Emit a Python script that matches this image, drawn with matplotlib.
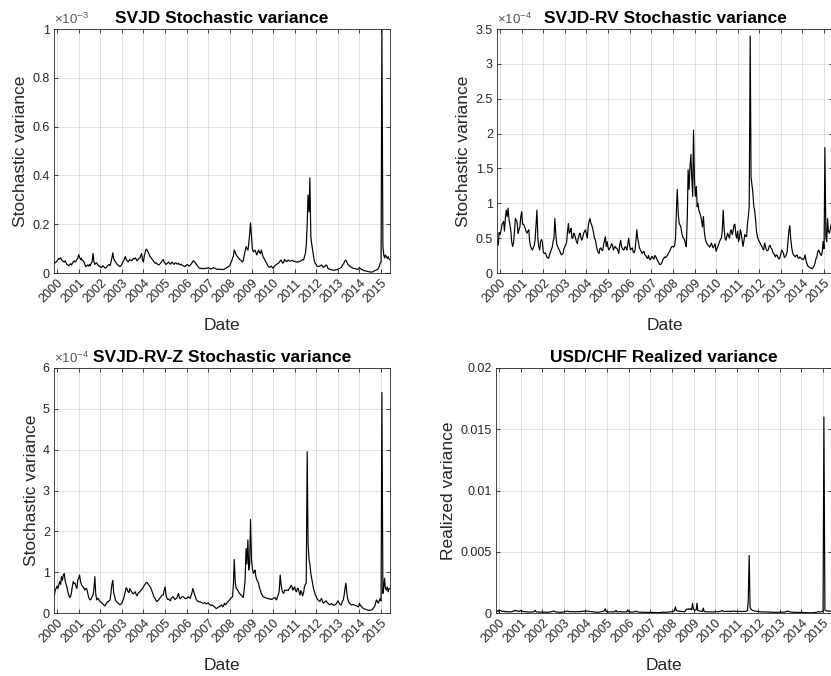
import numpy as np
import pandas as pd
import matplotlib
matplotlib.use('Agg')
import matplotlib.pyplot as plt
import matplotlib.dates as mdates
from matplotlib.ticker import FuncFormatter

plt.rcParams['font.family'] = 'Liberation Sans'
plt.rcParams['mathtext.fontset'] = 'custom'
plt.rcParams['mathtext.rm'] = 'Liberation Sans'
plt.rcParams['mathtext.it'] = 'Liberation Sans:italic'

# semi-monthly samples (1st and 15th), 15 Nov 1999 .. 1 Jun 2015
# SVJD stochastic variance, units of 1e-3
svjd = [
    0.040, 0.042, 0.045,
    # 2000
    0.050, 0.055, 0.060, 0.057, 0.062, 0.055, 0.050, 0.048, 0.045, 0.050, 0.042, 0.035,
    0.033, 0.030, 0.034, 0.038, 0.033, 0.040, 0.046, 0.050, 0.045, 0.048, 0.055, 0.060,
    # 2001
    0.075, 0.065, 0.055, 0.060, 0.052, 0.050, 0.045, 0.035, 0.026, 0.030, 0.033, 0.028,
    0.035, 0.030, 0.040, 0.045, 0.080, 0.045, 0.035, 0.040, 0.042, 0.035, 0.030, 0.028,
    # 2002
    0.026, 0.022, 0.025, 0.030, 0.026, 0.022, 0.020, 0.024, 0.028, 0.032, 0.035, 0.030,
    0.045, 0.060, 0.083, 0.060, 0.050, 0.045, 0.040, 0.035, 0.032, 0.028, 0.026, 0.030,
    # 2003
    0.035, 0.045, 0.050, 0.060, 0.068, 0.055, 0.050, 0.045, 0.050, 0.055, 0.052, 0.050,
    0.055, 0.060, 0.058, 0.062, 0.055, 0.050, 0.055, 0.060, 0.062, 0.070, 0.080, 0.055,
    # 2004
    0.045, 0.070, 0.085, 0.098, 0.095, 0.088, 0.080, 0.070, 0.065, 0.060, 0.055, 0.050,
    0.045, 0.040, 0.042, 0.038, 0.035, 0.033, 0.036, 0.040, 0.045, 0.050, 0.056, 0.045,
    # 2005
    0.040, 0.035, 0.038, 0.042, 0.045, 0.040, 0.036, 0.040, 0.045, 0.040, 0.035, 0.040,
    0.042, 0.038, 0.036, 0.040, 0.035, 0.033, 0.036, 0.032, 0.030, 0.028, 0.026, 0.030,
    # 2006
    0.032, 0.035, 0.030, 0.028, 0.032, 0.036, 0.042, 0.048, 0.050, 0.045, 0.040, 0.035,
    0.030, 0.025, 0.020, 0.019, 0.018, 0.020, 0.018, 0.017, 0.019, 0.020, 0.018, 0.020,
    # 2007
    0.022, 0.020, 0.018, 0.016, 0.018, 0.020, 0.022, 0.020, 0.018, 0.016, 0.015, 0.017,
    0.015, 0.014, 0.016, 0.015, 0.013, 0.015, 0.016, 0.018, 0.020, 0.022, 0.025, 0.028,
    # 2008
    0.030, 0.040, 0.050, 0.060, 0.070, 0.094, 0.085, 0.075, 0.070, 0.065, 0.060, 0.055,
    0.053, 0.050, 0.045, 0.050, 0.074, 0.090, 0.108, 0.100, 0.094, 0.120, 0.160, 0.206,
    # 2009
    0.150, 0.100, 0.087, 0.090, 0.094, 0.085, 0.074, 0.085, 0.094, 0.085, 0.080, 0.094,
    0.080, 0.067, 0.060, 0.053, 0.045, 0.040, 0.030, 0.026, 0.023, 0.025, 0.029, 0.024,
    # 2010
    0.019, 0.024, 0.030, 0.033, 0.035, 0.038, 0.040, 0.045, 0.050, 0.053, 0.045, 0.040,
    0.045, 0.056, 0.050, 0.047, 0.050, 0.053, 0.050, 0.048, 0.050, 0.052, 0.050, 0.048,
    # 2011
    0.048, 0.046, 0.045, 0.047, 0.045, 0.046, 0.048, 0.050, 0.053, 0.055, 0.053, 0.067,
    0.080, 0.108, 0.200, 0.320, 0.250, 0.390, 0.150, 0.120, 0.094, 0.074, 0.046, 0.040,
    # 2012
    0.033, 0.028, 0.026, 0.027, 0.029, 0.031, 0.033, 0.028, 0.023, 0.026, 0.029, 0.033,
    0.030, 0.019, 0.017, 0.015, 0.015, 0.013, 0.012, 0.012, 0.011, 0.012, 0.013, 0.014,
    # 2013
    0.015, 0.017, 0.019, 0.021, 0.023, 0.030, 0.036, 0.042, 0.050, 0.053, 0.045, 0.037,
    0.033, 0.029, 0.026, 0.023, 0.021, 0.020, 0.019, 0.018, 0.017, 0.016, 0.015, 0.016,
    # 2014
    0.023, 0.018, 0.015, 0.013, 0.012, 0.010, 0.009, 0.008, 0.007, 0.006, 0.005, 0.005,
    0.004, 0.004, 0.004, 0.005, 0.007, 0.010, 0.011, 0.013, 0.015, 0.018, 0.026, 0.040,
    # 2015
    0.045, 1.000, 0.110, 0.075, 0.062, 0.074, 0.066, 0.060, 0.067, 0.058, 0.053,
]

# SVJD-RV stochastic variance, units of 1e-4
svjd_rv = [
    0.45, 0.40, 0.58,
    # 2000
    0.55, 0.60, 0.69, 0.72, 0.74, 0.60, 0.80, 0.90, 0.81, 0.93, 0.76, 0.70,
    0.60, 0.45, 0.38, 0.43, 0.60, 0.78, 0.76, 0.72, 0.57, 0.62, 0.66, 0.80,
    # 2001
    0.88, 0.70, 0.70, 0.67, 0.64, 0.60, 0.57, 0.60, 0.62, 0.45, 0.38, 0.35,
    0.33, 0.36, 0.40, 0.47, 0.70, 0.90, 0.50, 0.38, 0.33, 0.45, 0.48, 0.45,
    # 2002
    0.30, 0.28, 0.29, 0.27, 0.23, 0.22, 0.21, 0.26, 0.30, 0.33, 0.37, 0.45,
    0.50, 0.78, 0.55, 0.42, 0.38, 0.35, 0.33, 0.30, 0.26, 0.27, 0.28, 0.35,
    # 2003
    0.38, 0.40, 0.45, 0.60, 0.71, 0.57, 0.60, 0.64, 0.50, 0.50, 0.57, 0.55,
    0.50, 0.45, 0.42, 0.50, 0.55, 0.57, 0.50, 0.47, 0.52, 0.57, 0.60, 0.62,
    # 2004
    0.55, 0.50, 0.68, 0.74, 0.78, 0.72, 0.68, 0.64, 0.57, 0.50, 0.47, 0.40,
    0.33, 0.30, 0.28, 0.35, 0.36, 0.33, 0.32, 0.40, 0.47, 0.52, 0.38, 0.45,
    # 2005
    0.36, 0.33, 0.36, 0.38, 0.42, 0.40, 0.33, 0.36, 0.38, 0.36, 0.35, 0.32,
    0.28, 0.40, 0.47, 0.38, 0.35, 0.33, 0.34, 0.38, 0.36, 0.33, 0.42, 0.50,
    # 2006
    0.38, 0.33, 0.35, 0.36, 0.30, 0.29, 0.33, 0.45, 0.62, 0.50, 0.43, 0.36,
    0.33, 0.31, 0.28, 0.30, 0.31, 0.26, 0.25, 0.22, 0.21, 0.25, 0.20, 0.19,
    # 2007
    0.22, 0.24, 0.21, 0.20, 0.25, 0.24, 0.21, 0.18, 0.16, 0.13, 0.12, 0.13,
    0.15, 0.19, 0.21, 0.23, 0.22, 0.24, 0.25, 0.28, 0.30, 0.33, 0.36, 0.38,
    # 2008
    0.38, 0.37, 0.40, 0.50, 0.90, 1.20, 0.85, 0.72, 0.69, 0.66, 0.57, 0.52,
    0.50, 0.48, 0.42, 0.38, 0.80, 1.48, 1.20, 1.50, 1.70, 1.38, 1.10, 2.05,
    # 2009
    1.33, 1.10, 1.24, 0.95, 1.00, 0.90, 0.86, 0.82, 0.75, 0.66, 0.81, 0.60,
    0.50, 0.45, 0.42, 0.40, 0.39, 0.37, 0.40, 0.43, 0.38, 0.36, 0.39, 0.42,
    # 2010
    0.31, 0.35, 0.38, 0.42, 0.45, 0.48, 0.50, 0.60, 0.90, 0.66, 0.50, 0.47,
    0.52, 0.57, 0.53, 0.50, 0.60, 0.62, 0.55, 0.60, 0.69, 0.70, 0.55, 0.50,
    # 2011
    0.60, 0.45, 0.50, 0.62, 0.57, 0.48, 0.38, 0.45, 0.55, 0.53, 0.52, 0.70,
    0.82, 0.95, 3.40, 1.38, 1.25, 1.15, 0.95, 0.90, 0.75, 0.60, 0.52, 0.48,
    # 2012
    0.45, 0.43, 0.40, 0.38, 0.35, 0.33, 0.43, 0.38, 0.33, 0.32, 0.33, 0.38,
    0.40, 0.36, 0.35, 0.30, 0.28, 0.26, 0.23, 0.26, 0.25, 0.22, 0.20, 0.22,
    # 2013
    0.28, 0.33, 0.30, 0.28, 0.22, 0.23, 0.26, 0.30, 0.45, 0.60, 0.68, 0.50,
    0.38, 0.30, 0.26, 0.25, 0.23, 0.25, 0.26, 0.22, 0.21, 0.23, 0.22, 0.20,
    # 2014
    0.20, 0.19, 0.22, 0.26, 0.18, 0.14, 0.10, 0.09, 0.08, 0.07, 0.07, 0.06,
    0.08, 0.10, 0.14, 0.20, 0.23, 0.30, 0.33, 0.30, 0.27, 0.25, 0.30, 0.45,
    # 2015
    0.35, 1.80, 0.50, 0.45, 0.78, 0.60, 0.57, 0.62, 0.70, 0.65, 0.60,
]

# SVJD-RV-Z stochastic variance, units of 1e-4
svjd_rvz = [
    0.42, 0.56, 0.60,
    # 2000
    0.66, 0.60, 0.70, 0.77, 0.70, 0.89, 0.80, 0.93, 0.97, 0.80, 0.70, 0.64,
    0.52, 0.45, 0.38, 0.40, 0.50, 0.65, 0.77, 0.72, 0.73, 0.65, 0.60, 0.80,
    # 2001
    0.85, 0.93, 0.77, 0.70, 0.66, 0.64, 0.60, 0.56, 0.60, 0.60, 0.50, 0.40,
    0.34, 0.32, 0.35, 0.40, 0.44, 0.60, 0.89, 0.48, 0.32, 0.36, 0.35, 0.30,
    # 2002
    0.28, 0.26, 0.24, 0.22, 0.20, 0.17, 0.20, 0.24, 0.27, 0.28, 0.30, 0.32,
    0.50, 0.69, 0.80, 0.50, 0.40, 0.32, 0.28, 0.26, 0.24, 0.22, 0.20, 0.22,
    # 2003
    0.24, 0.30, 0.36, 0.45, 0.55, 0.62, 0.58, 0.52, 0.50, 0.60, 0.55, 0.52,
    0.48, 0.47, 0.50, 0.52, 0.45, 0.42, 0.48, 0.50, 0.52, 0.55, 0.57, 0.60,
    # 2004
    0.64, 0.68, 0.71, 0.74, 0.75, 0.72, 0.68, 0.65, 0.62, 0.57, 0.50, 0.44,
    0.38, 0.36, 0.30, 0.28, 0.30, 0.32, 0.36, 0.38, 0.42, 0.44, 0.44, 0.55,
    # 2005
    0.64, 0.45, 0.36, 0.33, 0.34, 0.32, 0.30, 0.36, 0.38, 0.40, 0.36, 0.33,
    0.35, 0.36, 0.42, 0.48, 0.36, 0.35, 0.38, 0.40, 0.40, 0.38, 0.36, 0.35,
    # 2006
    0.36, 0.38, 0.40, 0.37, 0.36, 0.42, 0.50, 0.60, 0.52, 0.45, 0.38, 0.32,
    0.30, 0.28, 0.27, 0.28, 0.26, 0.25, 0.24, 0.24, 0.25, 0.24, 0.22, 0.24,
    # 2007
    0.25, 0.22, 0.20, 0.18, 0.20, 0.19, 0.17, 0.15, 0.13, 0.11, 0.12, 0.14,
    0.15, 0.16, 0.18, 0.20, 0.15, 0.17, 0.24, 0.20, 0.22, 0.26, 0.28, 0.30,
    # 2008
    0.33, 0.36, 0.38, 0.40, 0.70, 1.31, 0.75, 0.62, 0.58, 0.56, 0.50, 0.48,
    0.44, 0.44, 0.40, 0.38, 0.60, 0.81, 1.58, 1.20, 1.79, 1.05, 1.20, 2.29,
    # 2009
    1.30, 1.10, 0.97, 1.00, 1.05, 0.90, 0.81, 0.78, 0.72, 0.62, 0.55, 0.48,
    0.44, 0.40, 0.39, 0.38, 0.37, 0.36, 0.36, 0.35, 0.34, 0.35, 0.33, 0.34,
    # 2010
    0.35, 0.37, 0.38, 0.34, 0.32, 0.40, 0.45, 0.55, 0.93, 0.70, 0.56, 0.50,
    0.48, 0.56, 0.55, 0.56, 0.56, 0.55, 0.60, 0.62, 0.68, 0.65, 0.56, 0.60,
    # 2011
    0.64, 0.55, 0.52, 0.60, 0.60, 0.52, 0.44, 0.55, 0.50, 0.42, 0.50, 0.64,
    0.70, 0.73, 3.95, 1.71, 1.30, 1.20, 0.97, 0.85, 0.70, 0.60, 0.52, 0.45,
    # 2012
    0.40, 0.35, 0.32, 0.30, 0.28, 0.32, 0.36, 0.28, 0.24, 0.26, 0.28, 0.30,
    0.26, 0.24, 0.22, 0.20, 0.22, 0.23, 0.20, 0.20, 0.19, 0.20, 0.22, 0.25,
    # 2013
    0.30, 0.26, 0.22, 0.20, 0.20, 0.28, 0.32, 0.42, 0.60, 0.73, 0.50, 0.35,
    0.28, 0.24, 0.22, 0.20, 0.20, 0.21, 0.20, 0.19, 0.18, 0.17, 0.16, 0.15,
    # 2014
    0.24, 0.18, 0.17, 0.14, 0.12, 0.10, 0.10, 0.09, 0.08, 0.07, 0.07, 0.06,
    0.07, 0.07, 0.08, 0.10, 0.14, 0.16, 0.25, 0.32, 0.28, 0.24, 0.30, 0.35,
    # 2015
    0.30, 5.40, 0.48, 0.64, 0.85, 0.60, 0.56, 0.64, 0.52, 0.60, 0.60,
]

# USD/CHF realized variance, units of 1e-4
realized = [
    1.5, 2.0, 1.2,
    # 2000
    2.5, 1.8, 2.0, 1.5, 1.2, 1.6, 1.0, 1.4, 0.9, 1.2, 1.0, 0.8,
    1.1, 0.9, 1.0, 1.2, 1.5, 2.2, 1.6, 2.0, 1.8, 1.4, 1.2, 1.6,
    # 2001
    2.0, 1.6, 1.4, 1.2, 1.0, 1.1, 0.9, 0.8, 1.0, 0.7, 0.8, 0.9,
    0.7, 0.8, 1.0, 1.2, 2.2, 1.1, 0.8, 0.9, 0.7, 0.6, 0.7, 0.8,
    # 2002
    0.7, 0.6, 0.7, 0.8, 0.6, 0.5, 0.6, 0.7, 0.8, 0.9, 1.0, 1.2,
    1.4, 1.6, 1.2, 0.9, 0.8, 0.7, 0.6, 0.6, 0.5, 0.6, 0.7, 0.8,
    # 2003
    0.9, 1.0, 1.2, 1.4, 1.6, 1.3, 1.2, 1.1, 1.0, 1.1, 1.2, 1.0,
    0.9, 1.0, 1.1, 1.2, 1.1, 1.0, 1.1, 1.2, 1.3, 1.4, 1.6, 1.2,
    # 2004
    1.8, 1.6, 1.5, 1.4, 1.3, 1.2, 1.1, 1.0, 0.9, 0.8, 0.8, 0.7,
    0.7, 0.6, 0.6, 0.7, 0.8, 0.9, 1.0, 1.2, 1.4, 2.0, 3.5, 1.2,
    # 2005
    1.0, 0.9, 0.8, 0.9, 1.0, 0.9, 0.8, 1.0, 1.1, 0.9, 2.2, 0.9,
    0.8, 0.9, 1.0, 1.2, 0.9, 0.8, 0.9, 1.0, 0.9, 0.8, 1.0, 2.5,
    # 2006
    1.0, 0.9, 0.8, 0.8, 0.7, 0.8, 0.9, 1.2, 1.5, 1.1, 0.9, 0.8,
    0.7, 0.6, 0.6, 0.7, 0.6, 0.5, 0.5, 0.6, 0.5, 0.5, 0.6, 0.5,
    # 2007
    0.5, 0.6, 0.5, 0.4, 0.5, 0.4, 0.4, 0.3, 0.3, 0.3, 0.4, 0.3,
    0.4, 0.5, 0.6, 0.7, 0.6, 0.5, 0.6, 0.7, 0.8, 0.9, 1.0, 1.0,
    # 2008
    1.1, 1.2, 1.5, 2.0, 5.0, 2.2, 1.8, 1.6, 1.5, 1.4, 1.3, 1.2,
    1.2, 1.1, 1.0, 1.5, 3.0, 3.2, 2.8, 3.5, 3.0, 3.4, 2.5, 8.0,
    # 2009
    3.0, 2.5, 2.2, 2.5, 8.0, 2.0, 1.8, 1.6, 1.5, 1.4, 1.3, 4.0,
    1.2, 1.1, 1.0, 0.9, 0.9, 0.8, 0.9, 1.0, 0.8, 0.9, 1.0, 0.9,
    # 2010
    1.0, 1.1, 1.2, 1.0, 1.1, 1.2, 1.4, 1.6, 2.0, 1.5, 1.3, 1.2,
    1.3, 1.4, 1.2, 1.3, 1.4, 1.3, 1.2, 1.4, 1.5, 1.6, 1.4, 1.3,
    # 2011
    1.4, 1.3, 1.2, 1.4, 1.3, 1.2, 1.1, 1.2, 1.4, 1.3, 1.4, 1.6,
    2.0, 9.0, 47.0, 5.0, 3.0, 2.5, 2.0, 1.8, 1.6, 1.5, 1.4, 1.3,
    # 2012
    1.2, 1.1, 1.0, 0.9, 0.9, 0.8, 1.0, 0.9, 0.8, 0.8, 0.9, 0.8,
    0.7, 0.7, 0.6, 0.7, 0.6, 0.6, 0.5, 0.6, 0.5, 0.5, 0.6, 0.6,
    # 2013
    0.7, 0.8, 0.7, 0.6, 0.6, 0.7, 0.8, 1.0, 1.4, 1.6, 1.2, 0.9,
    0.8, 0.7, 0.6, 0.6, 0.5, 0.6, 0.5, 0.5, 0.5, 0.4, 0.4, 0.5,
    # 2014
    0.6, 0.5, 0.4, 0.4, 0.3, 0.3, 0.3, 0.2, 0.2, 0.2, 0.2, 0.2,
    0.2, 0.3, 0.3, 0.4, 0.5, 0.6, 0.8, 1.0, 0.9, 0.8, 1.0, 1.2,
    # 2015
    1.5, 160.0, 2.5, 2.0, 1.8, 1.6, 1.5, 1.6, 1.4, 1.5, 1.4,
]

dates = pd.date_range('1999-11-15', periods=len(svjd), freq='SMS')

titles = ['SVJD Stochastic variance', 'SVJD-RV Stochastic variance',
          'SVJD-RV-Z Stochastic variance', 'USD/CHF Realized variance']
ylabels = ['Stochastic variance', 'Stochastic variance',
           'Stochastic variance', 'Realized variance']
series = [np.array(svjd) * 1e-3, np.array(svjd_rv) * 1e-4,
          np.array(svjd_rvz) * 1e-4, np.array(realized) * 1e-4]
ymax = [1e-3, 3.5e-4, 6e-4, 0.02]
ystep = [0.2e-3, 0.5e-4, 1e-4, 0.005]
yscale = [1e-3, 1e-4, 1e-4, 1]
exps = [r'$\times10^{-3}$', r'$\times10^{-4}$', r'$\times10^{-4}$', None]

# axes boxes in pixels: left, top, right, bottom
W, H = 831, 676
boxes = [(54, 29, 390, 273), (497, 29, 833, 273),
         (54, 368, 390, 613), (496, 368, 832, 613)]

fig = plt.figure(figsize=(W / 100, H / 100), dpi=100)
dark = '#262626'

for i in range(4):
    l, t, r, b = boxes[i]
    ax = fig.add_axes([l / W, 1 - b / H, (r - l) / W, (b - t) / H])
    ax.plot(dates, series[i], color='black', lw=0.85)
    ax.set_xlim(pd.Timestamp('1999-11-10'), pd.Timestamp('2015-06-01'))
    ax.set_ylim(0, ymax[i])
    ax.set_yticks(np.arange(0, ymax[i] * 1.001, ystep[i]))
    s = yscale[i]
    ax.yaxis.set_major_formatter(FuncFormatter(lambda v, p, s=s: '%g' % round(v / s, 6)))
    ax.xaxis.set_major_locator(mdates.YearLocator())
    ax.xaxis.set_major_formatter(mdates.DateFormatter('%Y'))
    plt.setp(ax.get_xticklabels(), rotation=45, ha='right', rotation_mode='anchor')
    ax.tick_params(direction='in', top=True, right=True, length=3, width=0.6,
                   labelsize=9, colors=dark, pad=3)
    ax.grid(True, color='#dcdcdc', lw=0.6)
    ax.set_axisbelow(True)
    for sp in ax.spines.values():
        sp.set_color(dark)
        sp.set_linewidth(0.6)
    ax.set_title(titles[i], fontsize=12.5, fontweight='bold', pad=4)
    ax.set_ylabel(ylabels[i], fontsize=12.5, color=dark, labelpad=3)
    ax.set_xlabel('Date', fontsize=12.5, color=dark, labelpad=9)
    if exps[i]:
        ax.text(0.0, 1.008, exps[i], transform=ax.transAxes, ha='left', va='bottom',
                fontsize=9.5, color='#555555')

fig.savefig('out.png', dpi=100)
